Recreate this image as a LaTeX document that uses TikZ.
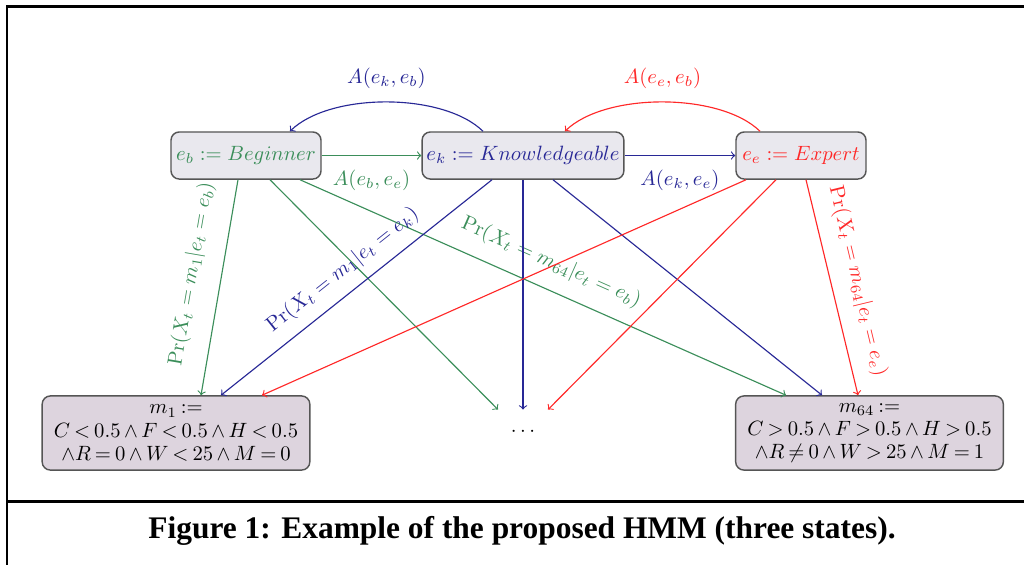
\documentclass[tikz,border=0pt]{standalone}
\usepackage{fontspec}
\usepackage{amssymb}
\newfontfamily\capfont{Liberation Serif}
\usetikzlibrary{calc}
\definecolor{cg}{RGB}{59,142,90}
\definecolor{cb}{RGB}{40,40,150}
\definecolor{cr}{RGB}{255,40,40}
\definecolor{topfill}{RGB}{233,232,238}
\definecolor{mfill}{RGB}{221,212,222}
\definecolor{bord}{RGB}{85,85,85}
\newcommand\mytightmath{\thickmuskip=3.5mu\relax\medmuskip=3mu\relax}
\begin{document}
\begin{tikzpicture}[x=0.017cm,y=-0.017cm,
  statebox/.style={draw=bord, line width=0.7pt, rounded corners=1.4mm, fill=topfill, minimum height=0.8cm, inner sep=2pt},
  obsbox/.style={draw=bord, line width=0.7pt, rounded corners=1.4mm, fill=mfill, minimum width=4.55cm, minimum height=1.26cm, align=center, inner sep=2pt, font=\fontsize{10.3}{11.2}\selectfont},
  conn/.style={->, line width=0.55pt},
  lab/.style={inner sep=2pt},
  frameline/.style={line width=1.45pt}
]
\useasboundingbox (0,0) rectangle (1024,564);
\draw[frameline] (1030,6) -- (7,6) -- (7,570);
\draw[frameline] (7,501) -- (1030,501);

% state nodes
\node[statebox, minimum width=2.55cm, text=cg] (b) at (246,155.5) {$e_b := Beginner$};
\node[statebox, minimum width=3.43cm, text=cb] (k) at (523,155.5) {$e_k := Knowledgeable$};
\node[statebox, minimum width=2.21cm, text=cr] (e) at (801,155.5) {$e_e := Expert$};

% observation nodes
\node[obsbox] (m1) at (176,433) {\mytightmath$m_1 :=$\\ \mytightmath$C<0.5\land F<0.5\land H<0.5$\\ \mytightmath$\land R=0\land W<25\land M=0$};
\node[obsbox] (m64) at (869.5,433) {\mytightmath$m_{64} :=$\\ \mytightmath$C>0.5\land F>0.5\land H>0.5$\\ \mytightmath$\land R\neq 0\land W>25\land M=1$};
\node[inner sep=0pt, minimum height=0.748cm] (d) at (523,432) {$\cdots$};

% transitions
\draw[conn, cb] ($(k.north)+(-40,0)$) .. controls +(-40,-39) and +(40,-39) .. ($(b.north)+(44,0)$)
  node[midway, above=0.15cm, lab] {$A(e_k, e_b)$};
\draw[conn, cr] ($(e.north)+(-41,0)$) .. controls +(-40,-39) and +(40,-39) .. ($(k.north)+(42,0)$)
  node[midway, above=0.15cm, lab] {$A(e_e, e_b)$};
\draw[conn, cg] (b.east) -- (k.west) node[midway, below=0.17cm, lab] {$A(e_b, e_e)$};
\draw[conn, cb] (k.east) -- (e.west) node[midway, below=0.17cm, lab] {$A(e_k, e_e)$};

% emissions from Beginner
\draw[conn, cg] ($(b.south)+(-8,0)$) -- ($(m1.north)+(25,0)$)
  node[pos=0.46, sloped, above=0.25cm, lab] {$\Pr(X_t = m_1 | e_t = e_b)$};
\draw[conn, cg] ($(b.south)+(24,0)$) -- ($(d.north)+(-25,0)$);
\draw[conn, cg] ($(b.south)+(54,0)$) -- ($(m64.north)+(-83.5,0)$)
  node[pos=0.495, sloped, above=0.19cm, lab] {$\Pr(X_t = m_{64} | e_t = e_b)$};

% emissions from Knowledgeable
\draw[conn, cb] ($(k.south)+(-31,0)$) -- ($(m1.north)+(45,0)$)
  node[pos=0.5, sloped, above=0.12cm, lab] {$\Pr(X_t = m_1 | e_t = e_k)$};
\draw[conn, cb] (k.south) -- (d.north);
\draw[conn, cb] ($(k.south)+(30,0)$) -- ($(m64.north)+(-47.5,0)$);

% emissions from Expert
\draw[conn, cr] ($(e.south)+(-55,0)$) -- ($(m1.north)+(86,0)$);
\draw[conn, cr] ($(e.south)+(-25,0)$) -- ($(d.north)+(25,0)$);
\draw[conn, cr] ($(e.south)+(5,0)$) -- ($(m64.north)+(-11.5,0)$)
  node[pos=0.5, sloped, above=0.19cm, lab] {$\Pr(X_t = m_{64} | e_t = e_e)$};

% caption
\node[font=\capfont\bfseries\fontsize{15.2}{17}\selectfont] (cap) at (522,531) {Figure 1: Example of the proposed HMM (three states).};
\end{tikzpicture}
\end{document}
